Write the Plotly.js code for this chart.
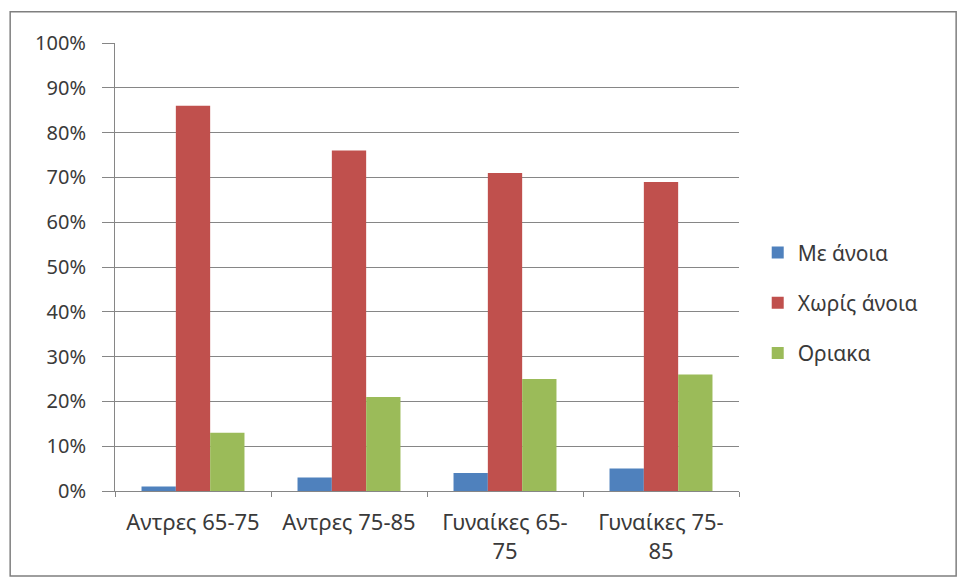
<!DOCTYPE html>
<html><head><meta charset="utf-8">
<script src="https://cdn.plot.ly/plotly-3.0.1.min.js"></script>
<style>body{margin:0;background:#fff}#c{width:962px;height:582px}</style>
</head><body><div id="c"></div>
<script>
const categories = ["Αντρες 65-75", "Αντρες 75-85", "Γυναίκες 65-<br>75", "Γυναίκες 75-<br>85"];
const seriesNames = ["Με άνοια", "Χωρίς άνοια", "Οριακα"];
const withDementia = [0.01, 0.03, 0.04, 0.05];
const withoutDementia = [0.86, 0.76, 0.71, 0.69];
const borderline = [0.13, 0.21, 0.25, 0.26];
const colors = ["#4F81BD", "#C0504D", "#9BBB59"];
const values = [withDementia, withoutDementia, borderline];

const traces = values.map((v, i) => ({
  type: "bar", x: categories, y: v, name: seriesNames[i], legendgroup: "g" + i,
  marker: {color: colors[i]}, hoverinfo: "none"
}));

const layout = {
  width: 962, height: 582,
  margin: {l: 115, r: 223, t: 43, b: 91},
  paper_bgcolor: "#fff", plot_bgcolor: "#fff",
  barmode: "group", bargap: 0.34, bargroupgap: 0,
  font: {family: "Noto Sans, Open Sans, sans-serif", color: "#3a3a3a", size: 21},
  xaxis: {
    type: "category", tickson: "boundaries", ticks: "outside", ticklen: 5,
    tickcolor: "#868686", showline: true, linecolor: "#868686", linewidth: 1,
    showgrid: false, tickfont: {size: 22}, ticklabelstandoff: 12
  },
  yaxis: {
    range: [0, 1], tickformat: ".0%", dtick: 0.1, showgrid: true,
    gridcolor: "#868686", gridwidth: 1, showline: true, linecolor: "#868686",
    ticks: "outside", ticklen: 12, tickcolor: "#868686", zeroline: false,
    tickfont: {size: 20}, ticklabelstandoff: 12
  },
  legend: {
    x: 1.03, y: 0.42, xanchor: "left", yanchor: "middle",
    font: {size: 21}, itemwidth: 30, traceorder: "grouped", tracegroupgap: 20,
    bgcolor: "rgba(0,0,0,0)"
  },
  shapes: [{
    type: "rect", xref: "paper", yref: "paper",
    x0: -0.168, x1: 1.348, y0: -0.19, y1: 1.07,
    line: {color: "#7f7f7f", width: 1.5}, fillcolor: "rgba(0,0,0,0)", layer: "below"
  }]
};
Plotly.newPlot("c", traces, layout, {staticPlot: true});
</script></body></html>
